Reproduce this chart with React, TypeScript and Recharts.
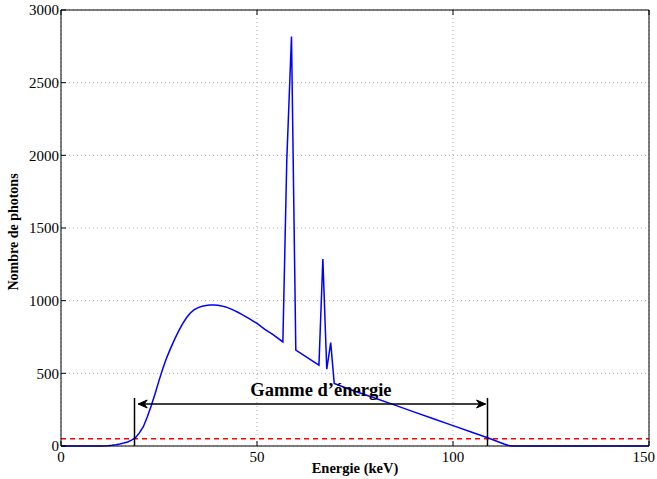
import {
  CartesianGrid,
  Line,
  LineChart,
  ReferenceDot,
  ReferenceLine,
  XAxis,
  YAxis,
} from 'recharts';

const energies = [
  0, 10, 12, 13, 14, 15, 16, 17, 18, 19, 20, 21, 22, 23, 24, 25, 26, 27, 28, 29,
  30, 31, 32, 33, 34, 35, 36, 37, 38, 39, 40, 41, 42, 43, 44, 45, 46, 48, 50,
  52, 54, 56.6, 57.6, 58.8, 59.9, 65.8, 66.8, 67.8, 68.8, 69.7, 72.9, 75, 80,
  85, 90, 95, 100, 105, 109, 111, 113, 114, 115, 150,
];
const photons = [
  0, 0, 2, 5, 9, 14, 20, 28, 40, 57, 90, 133, 200, 275, 360, 450, 535, 610,
  675, 735, 790, 840, 882, 915, 938, 952, 961, 967, 970, 970, 968, 964, 957,
  947, 935, 922, 908, 877, 843, 803, 768, 716, 1968, 2817, 660, 557, 1287, 528,
  711, 431, 397, 377, 330, 283, 235, 187, 140, 93, 55, 34, 14, 5, 0, 0,
];

const xTicks = [0, 50, 100, 150];
const yTicks = [0, 500, 1000, 1500, 2000, 2500, 3000];

const seuil = 50;
const gammeMin = 18.75;
const gammeMax = 108.8;
const flecheDebut = 19.7;
const flecheFin = 108.3;
const flecheNiveau = 289;
const barreHaut = 330;
const titreGamme = 'Gamme d\u2019énergie';

const data = energies.map((e, i) => ({ e, n: photons[i] }));

const FONT = 'Liberation Serif, Times New Roman, serif';

function BottomTick(props: any) {
  const { x, y, payload } = props;
  // le dernier libellé est décalé pour rester dans la figure
  const last = payload.value === xTicks[xTicks.length - 1];
  return (
    <g>
      <line x1={x} x2={x} y1={y} y2={y - 5} stroke="#000" />
      <text
        x={last ? x + 6 : x}
        y={y + 16}
        textAnchor={last ? 'end' : 'middle'}
        fontFamily={FONT}
        fontSize={15}
        fill="#000"
      >
        {payload.value}
      </text>
    </g>
  );
}

function LeftTick(props: any) {
  const { x, y, payload } = props;
  return (
    <g>
      <line x1={x} x2={x + 5} y1={y} y2={y} stroke="#000" />
      <text x={x - 2} y={y} dy="0.35em" textAnchor="end" fontFamily={FONT} fontSize={15} fill="#000">
        {payload.value}
      </text>
    </g>
  );
}

function TopTick(props: any) {
  const { x, y } = props;
  return <line x1={x} x2={x} y1={y} y2={y + 5} stroke="#000" />;
}

function RightTick(props: any) {
  const { x, y } = props;
  return <line x1={x} x2={x - 5} y1={y} y2={y} stroke="#000" />;
}

function Fleche(props: any) {
  const { x1, x2, y1 } = props;
  return (
    <g>
      <line x1={x1} x2={x2} y1={y1} y2={y1} stroke="#000" strokeWidth={1.5} />
      <polygon points={`${x1},${y1} ${x1 + 9},${y1 - 4} ${x1 + 6},${y1} ${x1 + 9},${y1 + 4}`} fill="#000" stroke="#000" />
      <polygon points={`${x2},${y1} ${x2 - 9},${y1 - 4} ${x2 - 6},${y1} ${x2 - 9},${y1 + 4}`} fill="#000" stroke="#000" />
    </g>
  );
}

export default function App() {
  return (
    <div style={{ position: 'absolute', left: 0, top: 0, background: '#fff' }}>
      <LineChart
        width={657}
        height={479}
        data={data}
        margin={{ top: 9, right: 7, bottom: 1, left: 1 }}
      >
        <CartesianGrid stroke="#aaa" strokeDasharray="1 3" />
        <XAxis
          dataKey="e"
          type="number"
          domain={[0, 150]}
          ticks={xTicks}
          interval={0}
          height={32}
          tickSize={0}
          tickMargin={0}
          tickLine={false}
          tick={<BottomTick />}
          stroke="#000"
          label={{
            content: (p: any) => (
              <text
                x={p.viewBox.x + p.viewBox.width / 2}
                y={p.viewBox.y + 27}
                textAnchor="middle"
                fontFamily={FONT}
                fontWeight="bold"
                fontSize={14.5}
                fill="#000"
              >
                Energie (keV)
              </text>
            ),
          }}
        />
        <XAxis
          xAxisId="top"
          orientation="top"
          dataKey="e"
          type="number"
          domain={[0, 150]}
          ticks={xTicks}
          interval={0}
          height={1}
          tickSize={0}
          tickMargin={0}
          tickLine={false}
          tick={<TopTick />}
          stroke="#000"
        />
        <YAxis
          type="number"
          domain={[0, 3000]}
          ticks={yTicks}
          interval={0}
          width={60}
          tickSize={0}
          tickMargin={0}
          tickLine={false}
          tick={<LeftTick />}
          stroke="#000"
          label={{
            content: (p: any) => {
              const cx = p.viewBox.x + 17;
              const cy = p.viewBox.y + p.viewBox.height / 2 + 4;
              return (
                <text
                  x={cx}
                  y={cy}
                  transform={`rotate(-90, ${cx}, ${cy})`}
                  textAnchor="middle"
                  fontFamily={FONT}
                  fontWeight="bold"
                  fontSize={14}
                  fill="#000"
                >
                  Nombre de photons
                </text>
              );
            },
          }}
        />
        <YAxis
          yAxisId="right"
          orientation="right"
          type="number"
          domain={[0, 3000]}
          ticks={yTicks}
          interval={0}
          width={1}
          tickSize={0}
          tickMargin={0}
          tickLine={false}
          tick={<RightTick />}
          stroke="#000"
        />
        <ReferenceLine y={seuil} stroke="#ff0000" strokeWidth={1.5} strokeDasharray="5 4" />
        <Line
          type="linear"
          dataKey="n"
          stroke="#0000ff"
          strokeWidth={1.5}
          dot={false}
          isAnimationActive={false}
        />
        <ReferenceLine
          segment={[
            { x: gammeMin, y: 0 },
            { x: gammeMin, y: barreHaut },
          ]}
          stroke="#000"
          strokeWidth={1.5}
        />
        <ReferenceLine
          segment={[
            { x: gammeMax, y: 0 },
            { x: gammeMax, y: barreHaut },
          ]}
          stroke="#000"
          strokeWidth={1.5}
        />
        <ReferenceLine
          segment={[
            { x: flecheDebut, y: flecheNiveau },
            { x: flecheFin, y: flecheNiveau },
          ]}
          shape={<Fleche />}
        />
        <ReferenceDot
          x={66.3}
          y={344}
          r={0}
          shape={(p: any) => (
            <text
              x={p.cx}
              y={p.cy}
              textAnchor="middle"
              fontFamily={FONT}
              fontWeight="bold"
              fontSize={18.5}
              fill="#000"
            >
              {titreGamme}
            </text>
          )}
        />
      </LineChart>
    </div>
  );
}
